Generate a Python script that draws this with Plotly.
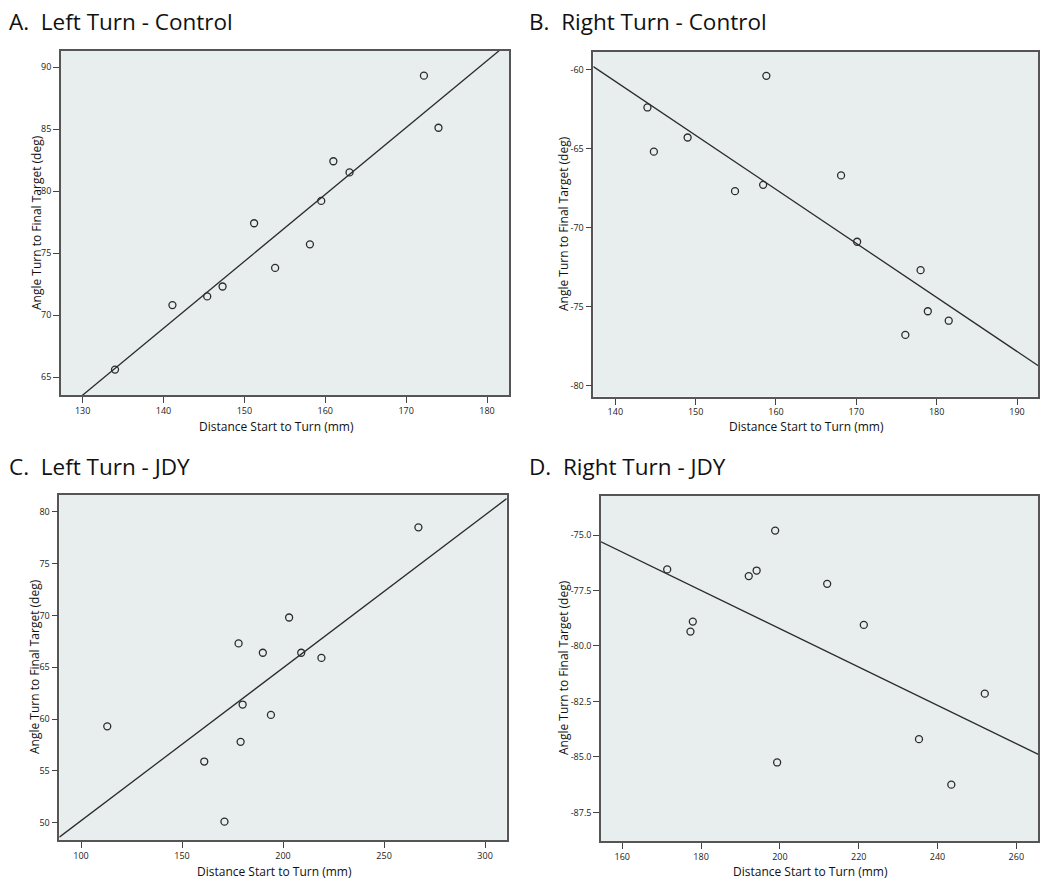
import numpy as np
import plotly.graph_objects as go

# ---------------- data ----------------
# A. Left Turn - Control
a_dist = [134.0, 141.1, 145.4, 147.3, 151.2, 153.8, 158.1, 159.5, 161.0, 163.0, 172.2, 174.0]
a_angle = [65.6, 70.8, 71.5, 72.3, 77.4, 73.8, 75.7, 79.2, 82.4, 81.5, 89.3, 85.1]

# B. Right Turn - Control
b_dist = [144.0, 144.8, 149.0, 154.9, 158.4, 158.8, 168.1, 170.1, 178.0, 178.9, 176.1, 181.5]
b_angle = [-62.4, -65.2, -64.3, -67.7, -67.3, -60.4, -66.7, -70.9, -72.7, -75.3, -76.8, -75.9]

# C. Left Turn - JDY
c_dist = [113.0, 161.0, 171.0, 178.0, 180.0, 179.0, 190.0, 194.0, 203.0, 209.0, 219.0, 267.0]
c_angle = [59.3, 55.9, 50.1, 67.3, 61.4, 57.8, 66.4, 60.4, 69.8, 66.4, 65.9, 78.5]

# D. Right Turn - JDY
d_dist = [171.4, 177.9, 177.3, 192.1, 194.1, 198.8, 199.3, 212.0, 221.3, 235.3, 243.5, 252.0]
d_angle = [-76.55, -78.9, -79.35, -76.85, -76.6, -74.8, -85.25, -77.2, -79.05, -84.2, -86.25, -82.15]

titles = ["A.\u00a0 Left Turn - Control", "B.\u00a0 Right Turn - Control",
          "C.\u00a0 Left Turn - JDY", "D.\u00a0 Right Turn - JDY"]
x_title = "Distance Start to Turn (mm)"
y_title = "Angle Turn to Final Target (deg)"

a_xticks = [130, 140, 150, 160, 170, 180]
a_yticks = [65, 70, 75, 80, 85, 90]
b_xticks = [140, 150, 160, 170, 180, 190]
b_yticks = [-80, -75, -70, -65, -60]
c_xticks = [100, 150, 200, 250, 300]
c_yticks = [50, 55, 60, 65, 70, 75, 80]
d_xticks = [160, 180, 200, 220, 240, 260]
d_yticks = [-87.5, -85.0, -82.5, -80.0, -77.5, -75.0]

# ---------------- layout settings ----------------
W, H = 1050, 888
panels = [
    dict(x=a_dist, y=a_angle, xt=a_xticks, yt=a_yticks, yfmt="{:.0f}",
         xr=[127.32, 182.72], yr=[63.55, 91.29], box=(61, 509, 51, 395),
         title_pos=(7, 22), xt_pos=(276, 427), yt_pos=(36, 223)),
    dict(x=b_dist, y=b_angle, xt=b_xticks, yt=b_yticks, yfmt="{:.0f}",
         xr=[137.26, 192.65], yr=[-80.71, -58.87], box=(593.3, 1038.3, 51.7, 396.7),
         title_pos=(527, 22), xt_pos=(806, 427), yt_pos=(564, 224)),
    dict(x=c_dist, y=c_angle, xt=c_xticks, yt=c_yticks, yfmt="{:.0f}",
         xr=[89.26, 310.7], yr=[48.33, 81.62], box=(59.3, 506.7, 495, 840),
         title_pos=(7, 466), xt_pos=(274, 871), yt_pos=(34, 667)),
    dict(x=d_dist, y=d_angle, xt=d_xticks, yt=d_yticks, yfmt="{:.1f}",
         xr=[154.6, 265.58], yr=[-88.79, -73.24], box=(601, 1038.3, 496, 841),
         title_pos=(527, 466), xt_pos=(810, 871), yt_pos=(563, 668)),
]

fig = go.Figure()
annotations = []
layout_axes = {}
ink = "#2b2b2b"
for i, p in enumerate(panels):
    n = "" if i == 0 else str(i + 1)
    xa, ya = "x" + n, "y" + n
    x0, x1, y0, y1 = p["box"]
    # points
    fig.add_trace(go.Scatter(
        x=p["x"], y=p["y"], mode="markers", xaxis=xa, yaxis=ya,
        marker=dict(symbol="circle-open", size=7, color=ink, line=dict(width=1.3, color=ink)),
        showlegend=False, hoverinfo="x+y"))
    # least-squares fit line
    k, b = np.polyfit(p["x"], p["y"], 1)
    lx = np.array(p["xr"])
    fig.add_trace(go.Scatter(
        x=lx, y=k * lx + b, mode="lines", xaxis=xa, yaxis=ya,
        line=dict(color=ink, width=1.3), showlegend=False, hoverinfo="skip"))
    common = dict(showgrid=False, zeroline=False, showline=True, mirror=True,
                  linecolor="#555555", linewidth=1.6, ticks="outside", ticklen=6,
                  tickwidth=1.2, tickcolor="#444444",
                  tickfont=dict(family="Open Sans", size=9, color="#222222"))
    layout_axes["xaxis" + n] = dict(
        common, domain=[x0 / W, x1 / W], range=p["xr"], anchor=ya,
        tickmode="array", tickvals=p["xt"], ticktext=[str(v) for v in p["xt"]])
    layout_axes["yaxis" + n] = dict(
        common, domain=[1 - y1 / H, 1 - y0 / H], range=p["yr"], anchor=xa,
        tickmode="array", tickvals=p["yt"], ticktext=[p["yfmt"].format(v) for v in p["yt"]])
    tx, ty = p["title_pos"]
    annotations.append(dict(text=titles[i], x=tx / W, y=1 - ty / H, xref="paper", yref="paper",
                            xanchor="left", yanchor="middle", showarrow=False,
                            font=dict(family="Open Sans", size=22.5, color="#111111")))
    ax_, ay_ = p["xt_pos"]
    annotations.append(dict(text=x_title, x=ax_ / W, y=1 - ay_ / H, xref="paper", yref="paper",
                            xanchor="center", yanchor="middle", showarrow=False,
                            font=dict(family="Open Sans", size=12, color="#111111")))
    bx_, by_ = p["yt_pos"]
    annotations.append(dict(text=y_title, x=bx_ / W, y=1 - by_ / H, xref="paper", yref="paper",
                            xanchor="center", yanchor="middle", showarrow=False, textangle=-90,
                            font=dict(family="Open Sans", size=12, color="#111111")))

fig.update_layout(
    width=W, height=H, margin=dict(l=0, r=0, t=0, b=0),
    paper_bgcolor="white", plot_bgcolor="#e8eeed",
    annotations=annotations, **layout_axes)

fig.write_html("out.html", config={"displayModeBar": False},
               post_script="document.body.style.margin='0';document.body.style.padding='0';")
